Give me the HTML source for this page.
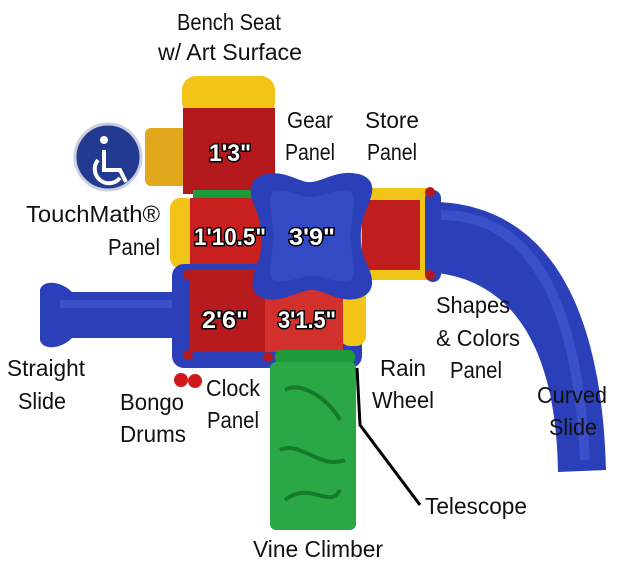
<!DOCTYPE html>
<html><head><meta charset="utf-8"><style>
html,body{margin:0;padding:0;background:#fff;}
svg{display:block}
.t{font-family:"Liberation Sans Narrow","Liberation Sans",sans-serif;font-size:23px;fill:#111;}
.d{font-family:"Liberation Sans Narrow","Liberation Sans",sans-serif;font-size:24px;font-weight:bold;fill:#fff;stroke:#000;stroke-width:3;paint-order:stroke;}
</style></head><body>
<svg width="617" height="564" viewBox="0 0 617 564" xmlns="http://www.w3.org/2000/svg">
<!-- curved slide -->
<path d="M425,202 C500,200 600,240 606,470 L558,472 C556,330 500,275 425,272 Z" fill="#2a3fb8"/>
<path d="M440,215 C500,215 575,250 585,460" stroke="#4a62d8" stroke-width="10" fill="none" opacity="0.5"/>
<!-- straight slide -->
<path d="M40,290 C42,280 60,280 72,292 L185,292 L185,338 L72,338 C60,350 42,350 40,340 Z" fill="#2a3fb8"/>
<rect x="60" y="300" width="120" height="8" fill="#4a62d8" opacity="0.5"/>
<!-- bench -->
<rect x="182" y="76" width="93" height="40" rx="14" fill="#f2c418"/>
<rect x="145" y="128" width="42" height="58" rx="6" fill="#e0a81a"/>
<!-- upper left deck -->
<rect x="183" y="108" width="92" height="86" fill="#b3191c"/>
<rect x="193" y="190" width="60" height="12" fill="#1f9a3a"/>
<rect x="170" y="198" width="26" height="70" rx="10" fill="#f2c418"/>
<rect x="190" y="198" width="72" height="70" fill="#c8201f"/>
<!-- right deck -->
<rect x="360" y="188" width="72" height="92" fill="#f2c418"/>
<rect x="362" y="200" width="58" height="70" fill="#c01d1e"/>
<rect x="425" y="190" width="16" height="92" rx="8" fill="#2a3fb8"/>
<circle cx="430" cy="192" r="5" fill="#b3191c"/><circle cx="430" cy="275" r="5" fill="#b3191c"/>
<!-- lower base -->
<rect x="172" y="264" width="190" height="104" rx="12" fill="#2a3fb8"/>
<rect x="340" y="278" width="26" height="68" rx="10" fill="#f2c418"/>
<rect x="190" y="270" width="75" height="82" fill="#b81b1d"/>
<rect x="265" y="270" width="78" height="82" fill="#d2302c"/>
<circle cx="188" cy="275" r="5" fill="#b3191c"/><circle cx="188" cy="355" r="5" fill="#b3191c"/>
<circle cx="268" cy="357" r="5" fill="#b3191c"/>
<rect x="275" y="350" width="80" height="14" rx="6" fill="#1f9a3a"/>
<!-- blue star platform -->
<path d="M262,175 C285,168 300,184 312,182 C326,180 340,168 362,175 C378,182 372,196 366,210 C360,225 358,245 366,262 C374,278 376,292 360,298 C340,304 326,290 312,290 C298,290 282,304 262,298 C248,292 252,278 258,262 C264,245 262,225 256,210 C250,196 246,182 262,175 Z" fill="#2a3fb8"/>
<path d="M272,192 C290,188 300,198 312,197 C324,196 336,188 352,192 C358,205 350,222 350,236 C350,252 358,266 352,280 C336,284 324,276 312,276 C300,276 288,284 272,280 C266,266 274,252 274,236 C274,222 266,205 272,192 Z" fill="#3650c9" opacity="0.7"/>
<!-- vine climber -->
<rect x="270" y="362" width="86" height="168" rx="6" fill="#2aa845"/>
<path d="M285,390 C300,380 330,400 340,420 M280,450 C300,440 320,470 345,460 M285,500 C310,480 330,510 340,490" stroke="#167a2c" stroke-width="4" fill="none"/>
<!-- bongo drums -->
<circle cx="181" cy="380" r="7" fill="#d0181c"/><circle cx="195" cy="381" r="7" fill="#d0181c"/>
<!-- telescope line -->
<polyline points="357,368 360,425 420,505" stroke="#000" stroke-width="3" fill="none"/>
<!-- wheelchair -->
<circle cx="108" cy="157" r="33" fill="#223a8f" stroke="#c9cfe0" stroke-width="3"/>
<g fill="none" stroke="#fff" stroke-width="4">
<path d="M104,150 L104,170 L120,170 L126,182"/>
<path d="M98,160 A14,14 0 1 0 120,178"/>
</g>
<circle cx="104" cy="140" r="4" fill="#fff"/>
<!-- deck labels -->
<text class="d" x="230" y="161" text-anchor="middle" textLength="42" lengthAdjust="spacingAndGlyphs">1'3"</text>
<text class="d" x="230" y="245" text-anchor="middle" textLength="72" lengthAdjust="spacingAndGlyphs">1'10.5"</text>
<text class="d" x="312" y="245" text-anchor="middle" textLength="46" lengthAdjust="spacingAndGlyphs">3'9"</text>
<text class="d" x="225" y="328" text-anchor="middle" textLength="46" lengthAdjust="spacingAndGlyphs">2'6"</text>
<text class="d" x="307" y="328" text-anchor="middle" textLength="58" lengthAdjust="spacingAndGlyphs">3'1.5"</text>
<!-- callout labels -->
<g lengthAdjust="spacingAndGlyphs">
<text class="t" x="229" y="30" text-anchor="middle" textLength="104" lengthAdjust="spacingAndGlyphs">Bench Seat</text>
<text class="t" x="230" y="60" text-anchor="middle" textLength="144" lengthAdjust="spacingAndGlyphs">w/ Art Surface</text>
<text class="t" x="310" y="128" text-anchor="middle" textLength="46" lengthAdjust="spacingAndGlyphs">Gear</text>
<text class="t" x="310" y="160" text-anchor="middle" textLength="50" lengthAdjust="spacingAndGlyphs">Panel</text>
<text class="t" x="392" y="128" text-anchor="middle" textLength="54" lengthAdjust="spacingAndGlyphs">Store</text>
<text class="t" x="392" y="160" text-anchor="middle" textLength="50" lengthAdjust="spacingAndGlyphs">Panel</text>
<text class="t" x="160" y="222" text-anchor="end" textLength="134" lengthAdjust="spacingAndGlyphs">TouchMath®</text>
<text class="t" x="160" y="255" text-anchor="end" textLength="52" lengthAdjust="spacingAndGlyphs">Panel</text>
<text class="t" x="46" y="376" text-anchor="middle" textLength="78" lengthAdjust="spacingAndGlyphs">Straight</text>
<text class="t" x="42" y="409" text-anchor="middle" textLength="48" lengthAdjust="spacingAndGlyphs">Slide</text>
<text class="t" x="152" y="410" text-anchor="middle" textLength="64" lengthAdjust="spacingAndGlyphs">Bongo</text>
<text class="t" x="153" y="442" text-anchor="middle" textLength="66" lengthAdjust="spacingAndGlyphs">Drums</text>
<text class="t" x="233" y="396" text-anchor="middle" textLength="54" lengthAdjust="spacingAndGlyphs">Clock</text>
<text class="t" x="233" y="428" text-anchor="middle" textLength="52" lengthAdjust="spacingAndGlyphs">Panel</text>
<text class="t" x="403" y="376" text-anchor="middle" textLength="46" lengthAdjust="spacingAndGlyphs">Rain</text>
<text class="t" x="403" y="408" text-anchor="middle" textLength="62" lengthAdjust="spacingAndGlyphs">Wheel</text>
<text class="t" x="473" y="313" text-anchor="middle" textLength="74" lengthAdjust="spacingAndGlyphs">Shapes</text>
<text class="t" x="478" y="346" text-anchor="middle" textLength="84" lengthAdjust="spacingAndGlyphs">&amp; Colors</text>
<text class="t" x="476" y="378" text-anchor="middle" textLength="52" lengthAdjust="spacingAndGlyphs">Panel</text>
<text class="t" x="572" y="403" text-anchor="middle" textLength="70" lengthAdjust="spacingAndGlyphs">Curved</text>
<text class="t" x="573" y="435" text-anchor="middle" textLength="48" lengthAdjust="spacingAndGlyphs">Slide</text>
<text class="t" x="476" y="514" text-anchor="middle" textLength="102" lengthAdjust="spacingAndGlyphs">Telescope</text>
<text class="t" x="318" y="557" text-anchor="middle" textLength="130" lengthAdjust="spacingAndGlyphs">Vine Climber</text>
</g>
</svg>
</body></html>
